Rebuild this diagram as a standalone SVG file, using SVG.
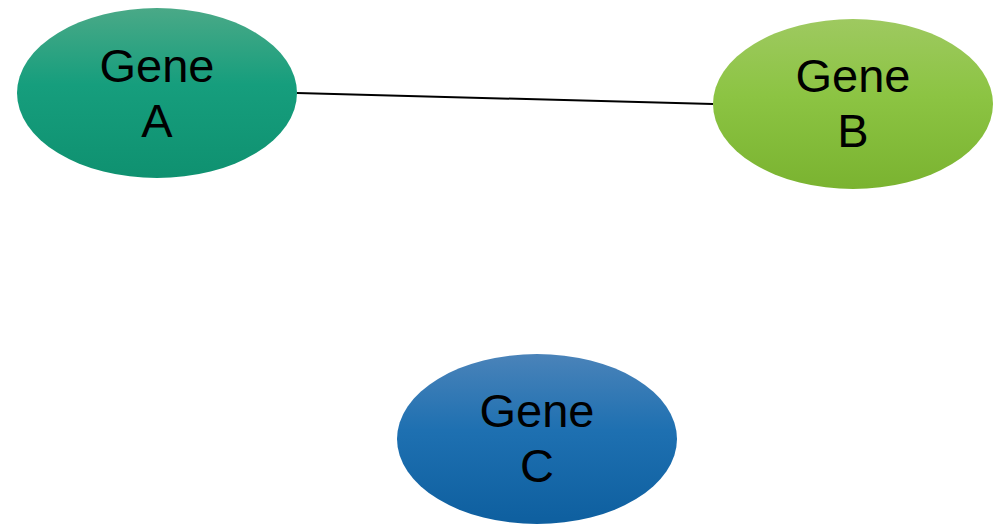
<svg xmlns="http://www.w3.org/2000/svg" width="1007" height="525" viewBox="0 0 1007 525">
<style>
.lbl{font-family:"Liberation Sans",Arial,sans-serif;font-size:47px;fill:#000;text-anchor:middle}
.edge{stroke:#000;stroke-width:2;fill:none}
</style>
<defs>
<linearGradient id="gA" x1="0" y1="0" x2="0" y2="1">
<stop offset="0" stop-color="#4aa987"/><stop offset="0.45" stop-color="#169e7d"/><stop offset="1" stop-color="#0f9170"/>
</linearGradient>
<linearGradient id="gB" x1="0" y1="0" x2="0" y2="1">
<stop offset="0" stop-color="#9ec960"/><stop offset="0.45" stop-color="#8cc443"/><stop offset="1" stop-color="#7ab330"/>
</linearGradient>
<linearGradient id="gC" x1="0" y1="0" x2="0" y2="1">
<stop offset="0" stop-color="#4a83b9"/><stop offset="0.45" stop-color="#1e70b1"/><stop offset="1" stop-color="#0e5f9f"/>
</linearGradient>
</defs>
<rect width="1007" height="525" fill="#fff"/>
<g id="connectors">
<line class="edge" x1="297" y1="93" x2="713" y2="104"/>
</g>
<g id="geneA">
<ellipse cx="157" cy="93" rx="140" ry="85" fill="url(#gA)"/>
<text class="lbl" x="157" y="82">Gene</text>
<text class="lbl" x="157" y="137">A</text>
</g>
<g id="geneB">
<ellipse cx="853" cy="104" rx="140" ry="85" fill="url(#gB)"/>
<text class="lbl" x="853" y="92">Gene</text>
<text class="lbl" x="853" y="147">B</text>
</g>
<g id="geneC">
<ellipse cx="537" cy="439" rx="140" ry="85" fill="url(#gC)"/>
<text class="lbl" x="537" y="427">Gene</text>
<text class="lbl" x="537" y="482">C</text>
</g>
</svg>
